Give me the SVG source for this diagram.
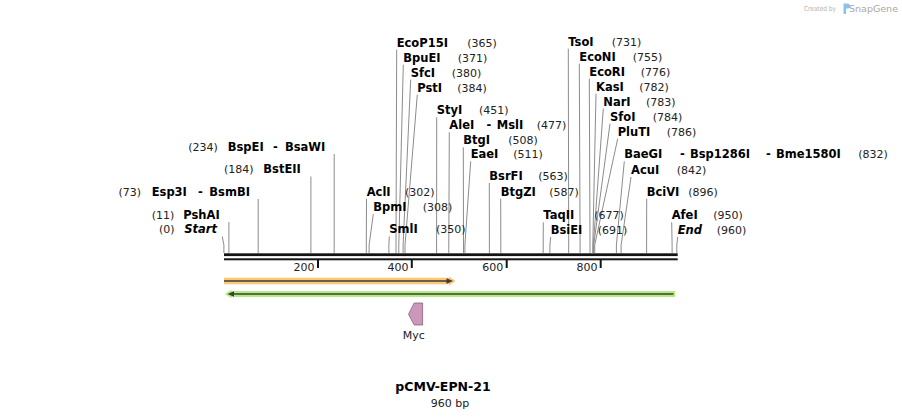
<svg xmlns="http://www.w3.org/2000/svg" width="902" height="417" viewBox="0 0 902 417">
<style>
text{font-family:"DejaVu Sans","Liberation Sans",sans-serif;}
.n{font-size:11.5px;font-weight:bold;fill:#000;}
.i{font-style:italic;}
.p{font-size:11px;fill:#222;}
.t{font-size:11px;fill:#222;}
.l{fill:none;stroke:#8c8c8c;stroke-width:1;}
.bb{fill:#141414;}
.tk{fill:#141414;}
</style>
<rect width="902" height="417" fill="#fff"/>

<!-- watermark -->
<g id="watermark">
<text x="804" y="11" font-size="7" fill="#b4b4b4" textLength="32" lengthAdjust="spacingAndGlyphs">Created by</text>
<path d="M843.5 3.5 h4 a2.5 2.5 0 0 1 0 5 h-1.5 v5.5 h-2.5 z" fill="#8cc2ea"/>
<text x="849" y="12" font-size="9.5" fill="#a8a8a8" textLength="49" lengthAdjust="spacingAndGlyphs">SnapGene</text>
</g>

<!-- connectors -->
<g id="connectors">
<polyline class="l" points="222.3,236.5 223.9,245 223.9,253"/>
<polyline class="l" points="228.9,222 228.9,253"/>
<polyline class="l" points="258.2,199 258.2,253"/>
<polyline class="l" points="310.9,176.5 310.9,253"/>
<polyline class="l" points="334.2,154 334.2,253"/>
<polyline class="l" points="366.5,199 366.3,245 366.3,253"/>
<polyline class="l" points="373.3,214 369.1,245 369.1,253"/>
<polyline class="l" points="389.3,236.5 388.9,245 388.9,253"/>
<polyline class="l" points="396.7,49.7 396.0,245 396.0,253"/>
<polyline class="l" points="403.3,64.7 398.8,245 398.8,253"/>
<polyline class="l" points="410.7,79.7 403.1,245 403.1,253"/>
<polyline class="l" points="417.3,94.7 405.0,245 405.0,253"/>
<polyline class="l" points="436.7,117.3 436.6,245 436.6,253"/>
<polyline class="l" points="449.3,132.3 448.8,245 448.8,253"/>
<polyline class="l" points="463.3,147.3 463.5,245 463.5,253"/>
<polyline class="l" points="470.7,161.3 464.9,245 464.9,253"/>
<polyline class="l" points="489.3,183 489.4,245 489.4,253"/>
<polyline class="l" points="500.7,198.7 500.8,245 500.8,253"/>
<polyline class="l" points="543.3,222.3 543.2,245 543.2,253"/>
<polyline class="l" points="550.7,237 549.9,245 549.9,253"/>
<polyline class="l" points="568.3,48.7 568.7,245 568.7,253"/>
<polyline class="l" points="579.3,63.7 580.1,245 580.1,253"/>
<polyline class="l" points="589.3,78.7 590.0,245 590.0,253"/>
<polyline class="l" points="596.0,93.7 592.8,245 592.8,253"/>
<polyline class="l" points="603.3,108.7 593.3,245 593.3,253"/>
<polyline class="l" points="610.0,123.7 593.7,245 593.7,253"/>
<polyline class="l" points="617.7,138.7 594.7,245 594.7,253"/>
<polyline class="l" points="624.3,161.3 616.4,245 616.4,253"/>
<polyline class="l" points="631.0,177 621.1,245 621.1,253"/>
<polyline class="l" points="646.7,198.7 646.6,245 646.6,253"/>
<polyline class="l" points="671.7,222.3 672.1,245 672.1,253"/>
<polyline class="l" points="677.7,237 676.8,245 676.8,253"/>
</g>

<!-- backbone -->
<g id="backbone">
<rect class="bb" x="224" y="253.3" width="453.7" height="2.8"/>
<rect class="bb" x="224" y="258.3" width="453.7" height="2"/>
<rect class="tk" x="317" y="260" width="2" height="8"/>
<rect class="tk" x="410.8" y="260" width="2" height="8"/>
<rect class="tk" x="505.7" y="260" width="2" height="8"/>
<rect class="tk" x="599.7" y="260" width="2" height="8"/>
<text class="t" x="314.5" y="270.5" text-anchor="end">200</text>
<text class="t" x="408.5" y="270.5" text-anchor="end">400</text>
<text class="t" x="503.3" y="270.5" text-anchor="end">600</text>
<text class="t" x="597.5" y="270.5" text-anchor="end">800</text>
</g>

<!-- features -->
<g id="feature-orange">
<polygon points="224,277.8 449,277.8 449,276.6 455.5,281 449,285.4 449,284.2 224,284.2" fill="#fbc874"/>
<line x1="224" y1="281" x2="448" y2="281" stroke="#3c3c3c" stroke-width="1.6"/>
<polygon points="446.5,278.2 453,281 446.5,283.8" fill="#3c3c3c"/>
</g>
<g id="feature-green">
<polygon points="675,290.9 231.5,290.9 231.5,289.7 224.8,294 231.5,298.3 231.5,297.1 675,297.1" fill="#b4ec80"/>
<line x1="231" y1="294" x2="673.5" y2="294" stroke="#3c3c3c" stroke-width="1.6"/>
<polygon points="227.5,294 234,291.2 234,296.8" fill="#3c3c3c"/>
</g>
<g id="feature-myc">
<polygon points="408.5,314.2 414.2,303 422.6,303 422.6,325 414.2,325" fill="#cc98b9" stroke="#8a5f7c" stroke-width="0.8"/>
<text class="t" x="413.8" y="338.5" text-anchor="middle">Myc</text>
</g>

<!-- left labels -->
<g id="site-BspEI"><text class="p" x="188.3" y="150.7">(234)</text><text class="n" x="227.7" y="150.7">BspEI</text><text class="n" x="273" y="150.7">-</text><text class="n" x="285" y="150.7">BsaWI</text></g>
<g id="site-BstEII"><text class="p" x="224" y="173.3">(184)</text><text class="n" x="263.3" y="173.3">BstEII</text></g>
<g id="site-Esp3I"><text class="p" x="118.5" y="195.7">(73)</text><text class="n" x="151.7" y="195.7">Esp3I</text><text class="n" x="198" y="195.7">-</text><text class="n" x="209.3" y="195.7">BsmBI</text></g>
<g id="site-PshAI"><text class="p" x="151.7" y="219">(11)</text><text class="n" x="183.3" y="219">PshAI</text></g>
<g id="site-Start"><text class="p" x="159" y="233.3">(0)</text><text class="n i" x="184.3" y="233.3">Start</text></g>

<!-- middle labels -->
<g id="site-AclI"><text class="n" x="366.7" y="195.7">AclI</text><text class="p" x="405" y="195.7">(302)</text></g>
<g id="site-BpmI"><text class="n" x="373.3" y="211">BpmI</text><text class="p" x="422.7" y="211">(308)</text></g>
<g id="site-SmlI"><text class="n" x="389.3" y="233.3">SmlI</text><text class="p" x="436" y="233.3">(350)</text></g>
<g id="site-EcoP15I"><text class="n" x="396.7" y="46.7">EcoP15I</text><text class="p" x="467.3" y="46.7">(365)</text></g>
<g id="site-BpuEI"><text class="n" x="403.3" y="61.7">BpuEI</text><text class="p" x="457.7" y="61.7">(371)</text></g>
<g id="site-SfcI"><text class="n" x="410.7" y="76.7">SfcI</text><text class="p" x="451.7" y="76.7">(380)</text></g>
<g id="site-PstI"><text class="n" x="417.3" y="91.7">PstI</text><text class="p" x="457.3" y="91.7">(384)</text></g>
<g id="site-StyI"><text class="n" x="436.7" y="114.3">StyI</text><text class="p" x="479" y="114.3">(451)</text></g>
<g id="site-AleI"><text class="n" x="449.3" y="129.3">AleI</text><text class="n" x="486.5" y="129.3">-</text><text class="n" x="496.7" y="129.3">MslI</text><text class="p" x="536.7" y="129.3">(477)</text></g>
<g id="site-BtgI"><text class="n" x="463.3" y="144.3">BtgI</text><text class="p" x="508.3" y="144.3">(508)</text></g>
<g id="site-EaeI"><text class="n" x="470.7" y="158.3">EaeI</text><text class="p" x="513.3" y="158.3">(511)</text></g>
<g id="site-BsrFI"><text class="n" x="489.3" y="180">BsrFI</text><text class="p" x="538.3" y="180">(563)</text></g>
<g id="site-BtgZI"><text class="n" x="500.7" y="195.7">BtgZI</text><text class="p" x="549.3" y="195.7">(587)</text></g>
<g id="site-TaqII"><text class="n" x="543.3" y="219.3">TaqII</text><text class="p" x="594.3" y="219.3">(677)</text></g>
<g id="site-BsiEI"><text class="n" x="550.7" y="234">BsiEI</text><text class="p" x="597.7" y="234">(691)</text></g>

<!-- right labels -->
<g id="site-TsoI"><text class="n" x="568.3" y="45.7">TsoI</text><text class="p" x="611.7" y="45.7">(731)</text></g>
<g id="site-EcoNI"><text class="n" x="579.3" y="60.7">EcoNI</text><text class="p" x="632.7" y="60.7">(755)</text></g>
<g id="site-EcoRI"><text class="n" x="589.3" y="75.7">EcoRI</text><text class="p" x="640.7" y="75.7">(776)</text></g>
<g id="site-KasI"><text class="n" x="596" y="90.7">KasI</text><text class="p" x="639.3" y="90.7">(782)</text></g>
<g id="site-NarI"><text class="n" x="603.3" y="105.7">NarI</text><text class="p" x="646" y="105.7">(783)</text></g>
<g id="site-SfoI"><text class="n" x="610" y="120.7">SfoI</text><text class="p" x="652.7" y="120.7">(784)</text></g>
<g id="site-PluTI"><text class="n" x="617.7" y="135.7">PluTI</text><text class="p" x="666.7" y="135.7">(786)</text></g>
<g id="site-BaeGI"><text class="n" x="624.3" y="158.3">BaeGI</text><text class="n" x="680" y="158.3">-</text><text class="n" x="690" y="158.3">Bsp1286I</text><text class="n" x="766" y="158.3">-</text><text class="n" x="776" y="158.3">Bme1580I</text><text class="p" x="858.3" y="158.3">(832)</text></g>
<g id="site-AcuI"><text class="n" x="631" y="174">AcuI</text><text class="p" x="676.7" y="174">(842)</text></g>
<g id="site-BciVI"><text class="n" x="646.7" y="195.7">BciVI</text><text class="p" x="688.3" y="195.7">(896)</text></g>
<g id="site-AfeI"><text class="n" x="671.7" y="219.3">AfeI</text><text class="p" x="713.3" y="219.3">(950)</text></g>
<g id="site-End"><text class="n i" x="677.7" y="234">End</text><text class="p" x="716.7" y="234">(960)</text></g>

<!-- title -->
<g id="title">
<text x="443" y="391" text-anchor="middle" font-size="12.5" font-weight="bold" fill="#000">pCMV-EPN-21</text>
<text x="450" y="406.5" text-anchor="middle" font-size="11" fill="#222">960 bp</text>
</g>
</svg>
